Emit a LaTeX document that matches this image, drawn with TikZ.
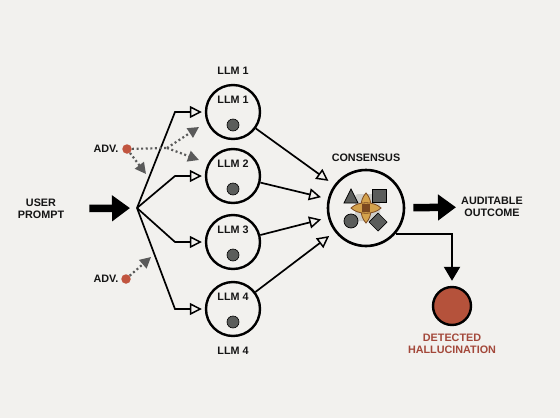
\documentclass[tikz,border=0pt]{standalone}
\usepackage{fontspec}
\setmainfont{Liberation Sans}
\usetikzlibrary{arrows.meta}
\definecolor{bg}{HTML}{F2F1EE}
\definecolor{ink}{HTML}{151515}
\definecolor{dotgray}{HTML}{5B5D5B}
\definecolor{advgray}{HTML}{5A5A5A}
\definecolor{advred}{HTML}{C1553F}
\definecolor{detred}{HTML}{B5523B}
\definecolor{dettext}{HTML}{A3483A}
\definecolor{tan}{HTML}{D4A24C}
\definecolor{brownc}{HTML}{7A4820}
\definecolor{halo}{HTML}{CFCFCB}
\begin{document}
\begin{tikzpicture}[x=1pt,y=-1pt,
  lbl/.style={font=\bfseries\fontsize{10.8}{12.5}\selectfont, align=center, text=ink, inner sep=0pt},
  llm/.style={circle, draw=black, line width=2.4pt, minimum size=54pt, inner sep=0pt},
  dotn/.style={circle, fill=dotgray, draw=black, line width=0.6pt, minimum size=12pt, inner sep=0pt},
  conn/.style={draw=black, line width=1.7pt, -{Triangle[open, length=12pt, width=12pt, line width=1.5pt]}},
  big/.style={draw=black, line width=7.5pt, -{Triangle[length=18pt, width=25pt]}},
  advline/.style={draw=advgray, line width=2.2pt, dash pattern=on 2pt off 2.6pt},
  adv/.style={advline, -{Triangle[length=11pt, width=11pt]}},
  advdot/.style={circle, fill=advred, minimum size=9.5pt, inner sep=0pt},
  shp/.style={fill=dotgray, draw=black, line width=0.7pt}
]
\fill[bg] (0,0) rectangle (560,418);
\useasboundingbox (0,0) rectangle (560,418);

% LLM nodes
\node[llm] (l1) at (233,112) {};
\node[llm] (l2) at (233,176) {};
\node[llm] (l3) at (233,242) {};
\node[llm] (l4) at (233,309) {};
\foreach \i/\y in {1/112,2/176,3/242,4/309}{
  \node[lbl] (t\i) at (233,\y-12) {LLM \i};
  \node[dotn] (d\i) at (233,\y+13) {};
}
\node[lbl] (top) at (233,71) {LLM 1};
\node[lbl] (bot) at (233,351) {LLM 4};

% user prompt and fan
\node[lbl] (up) at (41,209) {USER\\PROMPT};
\coordinate (fan) at (137,208);
\draw[big, shorten <=25pt, shorten >=7pt] (up) -- (fan);
\coordinate (e1) at (175,112);
\coordinate (e2) at (175,176);
\coordinate (e3) at (175,242);
\coordinate (e4) at (175,309);
\foreach \i in {1,2,3,4}{
  \draw[conn, shorten >=3pt, line join=miter] (fan) -- (e\i) -- (l\i.west);
}

% consensus
\node[circle, draw=black, line width=2.6pt, minimum size=76pt, inner sep=0pt] (cons) at (366,208) {};
\node[lbl] (ctext) at (366,158) {CONSENSUS};
\foreach \i in {1,2,3,4}{
  \draw[conn, shorten >=7pt] (l\i) -- (cons);
}

% consensus symbols
\fill[halo, rounded corners=3pt] (355,194) rectangle (380,221);
\draw[shp] (344,203) -- (358,203) -- (351,189) -- cycle;
\draw[shp] (372,189) rectangle (386,202);
\draw[shp] (351,221) circle (7pt);
\draw[shp] (378,213) -- (387,222) -- (378,231) -- (369,222) -- cycle;
\draw[fill=tan, draw=brownc, line width=0.8pt]
  (366,193) .. controls (373,200) and (373,216) .. (366,223) .. controls (359,216) and (359,200) .. cycle;
\draw[fill=tan, draw=brownc, line width=0.8pt]
  (351,208) .. controls (358,201) and (374,201) .. (381,208) .. controls (374,215) and (358,215) .. cycle;
\fill[brownc] (362,204) rectangle (370,212);

% outcome
\node[lbl] (out) at (492,207) {AUDITABLE\\OUTCOME};
\draw[big, shorten <=8pt, shorten >=5pt] (cons) -- (out);

% detected hallucination
\node[circle, fill=detred, draw=black, line width=2.4pt, minimum size=38pt, inner sep=0pt] (det) at (452,306) {};
\node[lbl, text=dettext] (dtext) at (452,344) {DETECTED\\HALLUCINATION};
\draw[draw=black, line width=2.2pt, -{Triangle[length=14pt, width=16pt]}, shorten >=5pt, line join=miter]
  (cons.-41) -- (cons.-41 -| det) -- (det);

% adversarial inputs
\node[lbl] (adv1) at (106,149) {ADV.};
\node[advdot] (a1) at (127,149) {};
\coordinate (s1) at (167,148);
\coordinate (p1) at (199,127);
\coordinate (p2) at (199,160);
\coordinate (p3) at (146,174);
\draw[advline] (a1) -- (s1);
\draw[adv] (s1) -- (p1);
\draw[adv] (s1) -- (p2);
\draw[adv] (a1) -- (p3);

\node[lbl] (adv2) at (106,279) {ADV.};
\node[advdot] (a2) at (126,279) {};
\coordinate (p4) at (151,257);
\draw[adv] (a2) -- (p4);
\end{tikzpicture}
\end{document}
